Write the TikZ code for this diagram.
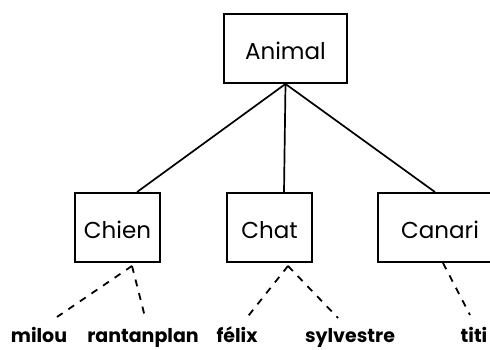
\documentclass[tikz,border=0pt]{standalone}
\usepackage{fontspec}
\setmainfont{Poppins}
\begin{document}
\begin{tikzpicture}[x=1pt,y=-1pt,
  box/.style={draw,line width=1.9pt,minimum height=69pt,inner sep=0pt,text height=22pt,text depth=0pt,font=\fontsize{23}{26}\selectfont},
  leaf/.style={inner sep=0pt,anchor=base,font=\fontsize{19}{22}\selectfont\bfseries},
  solidlink/.style={line width=1.7pt},
  dashlink/.style={line width=1.8pt,dash pattern=on 7pt off 7pt}]
\useasboundingbox (0,0) rectangle (490,350);
\clip (0,0) rectangle (490,350);
\node[box,minimum width=123pt] (animal) at (285.5,48.5) {Animal};
\node[box,minimum width=85pt] (chien) at (117.5,227.5) {Chien};
\node[box,minimum width=85pt] (chat) at (269.5,227.5) {Chat};
\node[box,minimum width=124pt] (canari) at (440,227.5) {Canari};
\node[leaf] (milou) at (39,342) {milou};
\node[leaf] (rantanplan) at (143,342) {rantanplan};
\node[leaf] (felix) at (237,342) {félix};
\node[leaf] (sylvestre) at (350,342) {sylvestre};
\node[leaf] (titi) at (474,342) {titi};
\coordinate (a0) at (animal.south);
\coordinate (c1) at ([xshift=19.5pt]chien.north);
\coordinate (c2) at ([xshift=14.5pt]chat.north);
\coordinate (c3) at ([xshift=-5pt]canari.north);
\coordinate (d1) at ([xshift=14.5pt,yshift=-3pt]chien.south);
\coordinate (d2) at ([xshift=18.5pt,yshift=-3pt]chat.south);
\coordinate (d3) at ([xshift=3pt]canari.south);
\coordinate (e1) at (57,317);
\coordinate (e2) at (145,317);
\coordinate (e3) at (245,320);
\coordinate (e4) at (338,318);
\coordinate (e5) at (470,315);
\draw[solidlink] (a0) -- (c1);
\draw[solidlink] (a0) -- (c2);
\draw[solidlink] (a0) -- (c3);
\draw[dashlink] (d1) -- (e1);
\draw[dashlink] (d1) -- (e2);
\draw[dashlink] (d2) -- (e3);
\draw[dashlink] (d2) -- (e4);
\draw[dashlink] (d3) -- (e5);
\end{tikzpicture}
\end{document}
